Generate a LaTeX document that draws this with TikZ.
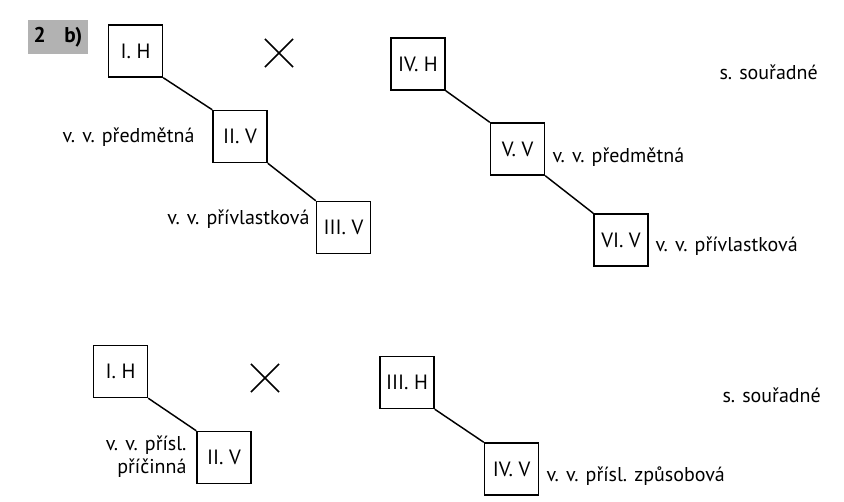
\documentclass[tikz,border=0pt]{standalone}
\usepackage{fontspec}
\setmainfont{PT Sans}
\usetikzlibrary{shapes.misc}

\tikzset{every picture/.style={line width=0.75pt}}
\tikzset{
  clause/.style={draw, line width=1.1pt, minimum width=40.5pt, minimum height=39pt, inner sep=0pt, font=\fontsize{15.5}{17}\selectfont},
  note/.style={inner sep=0.75pt, font=\fontsize{15}{17}\selectfont},
  cross/.style={cross out, draw, line width=1.1pt, minimum size=20pt, inner sep=0pt}
}

\begin{document}
\begin{tikzpicture}[x=0.75pt,y=0.75pt,yscale=-1,xscale=1]
	\useasboundingbox (0,0) rectangle (844,502);
	% Task label
	\node [fill=black!30, inner sep=2pt, minimum height=26pt, minimum width=45pt, font=\fontsize{16}{18}\selectfont\bfseries] (task) at (58,37) {2\hspace{14pt}b)};
	
	% First sentence, left part
	\node [clause] (ihA) at (135.5,51) {I. H};
	\node [clause] (iivA) at (240,136.5) {II. V};
	\node [clause] (iiivA) at (343.5,227.5) {III. V};
	\node [cross] (xA) at (279,53) {};
	\draw [line width=1.1pt] (ihA.south east) -- (iivA.north west) ;
	\draw [line width=1.1pt] (iivA.south east) -- (iiivA.north west) ;
	
	% First sentence, right part
	\node [clause] (ivhA) at (418,64) {IV. H};
	\node [clause] (vvA) at (517.5,149) {V. V};
	\node [clause] (vivA) at (621,240) {VI. V};
	\draw [line width=1.1pt] (ivhA.south east) -- (vvA.north west) ;
	\draw [line width=1.1pt] (vvA.south east) -- (vivA.north west) ;
	
	% Second sentence
	\node [clause] (ihB) at (120.5,371.5) {I. H};
	\node [clause] (iivB) at (224,457.5) {II. V};
	\node [cross] (xB) at (265,378) {};
	\draw [line width=1.1pt] (ihB.south east) -- (iivB.north west) ;
	
	\node [clause] (iiihB) at (407,382.5) {III. H};
	\node [clause] (ivvB) at (511.5,469) {IV. V};
	\draw [line width=1.1pt] (iiihB.south east) -- (ivvB.north west) ;
	
	% Add text nodes
	\node [note, anchor=east] (predmA) at (196,137) {v. v. předmětná};
	\node [note, anchor=east] (privlA) at (311,219) {v. v. přívlastková};
	\node [note, anchor=west] (predmB) at (551,157) {v. v. předmětná};
	\node [note, anchor=west] (privlB) at (654,246) {v. v. přívlastková};
	\node [note, anchor=west] (sourA) at (718,72) {s. souřadné};
	\node [note, anchor=east, align=right] (prislB) at (188,457) {v. v. přísl.\\příčinná};
	\node [note, anchor=west] (zpusB) at (545,476) {v. v. přísl. způsobová};
	\node [note, anchor=west] (sourB) at (721,395) {s. souřadné};
\end{tikzpicture}
\end{document}
